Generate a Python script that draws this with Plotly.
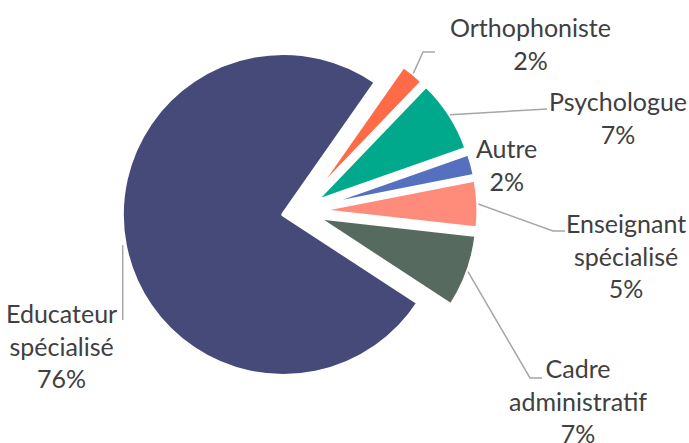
import math
import plotly.graph_objects as go

# ---- data ----
categories = ["Orthophoniste", "Psychologue", "Autre",
              "Enseignant spécialisé", "Cadre administratif", "Educateur spécialisé"]
label_text = ["Orthophoniste", "Psychologue", "Autre",
              "Enseignant<br>spécialisé", "Cadre<br>administratif", "Educateur<br>spécialisé"]
values = [2.45, 7.45, 2.3, 4.85, 7.45, 75.5]
colors = ["#FF6B46", "#00A98B", "#5570BF", "#FF8B7B", "#576A60", "#464A78"]

# ---- layout (pixels) ----
W, H = 689, 443
CX, CY = 300.0, 211.3
R = 161.5
PULL = 0.105
ROTATION = 35
FONT = "Lato"
FSIZE = 25
TXT = "#404040"
LEADER = "#A6A6A6"

label_pos = [(530, 43.5), (617.5, 117), (507, 164), (626, 255.5), (578, 400.5), (61, 345)]
leader_bends = [[(423, 52), (435, 52)], [(547, 109)], [],
                [(553, 231), (565, 231)], [(530, 378), (542, 378)], [(122.7, 320)]]

box = 2 * R * (1 + PULL)
dom_y = [1 - (CY + box / 2) / H, 1 - (CY - box / 2) / H]
dom_x = [(CX - 210) / W, (CX + 210) / W]

fig = go.Figure(go.Pie(
    labels=categories, values=values, sort=False, direction="clockwise",
    rotation=ROTATION, pull=PULL,
    marker=dict(colors=colors, line=dict(color="white", width=4)),
    textinfo="none", hoverinfo="label+percent", showlegend=False,
    domain=dict(x=dom_x, y=dom_y),
))

total = sum(values)
ann = []
shapes = []
cum = 0.0
for i, v in enumerate(values):
    mid = math.radians(ROTATION + 360 * (cum + v / 2) / total)
    cum += v
    pct = int(v / total * 100 + 0.5)
    lx, ly = label_pos[i]
    ann.append(dict(text=f"{label_text[i]}<br>{pct}%", x=lx / W, y=1 - ly / H,
                    xref="paper", yref="paper", xanchor="center", yanchor="middle",
                    showarrow=False, align="center",
                    font=dict(family=FONT, size=FSIZE, color=TXT)))
    if leader_bends[i]:
        rr = R * (1 + PULL)
        sx, sy = CX + rr * math.sin(mid), CY - rr * math.cos(mid)
        if i == len(values) - 1:
            sx = leader_bends[i][0][0]
        pts = [(sx, sy)] + leader_bends[i]
        path = "M " + " L ".join(f"{x / W},{1 - y / H}" for x, y in pts)
        shapes.append(dict(type="path", path=path, xref="paper", yref="paper",
                           line=dict(color=LEADER, width=1.5)))

fig.update_layout(width=W, height=H, margin=dict(l=0, r=0, t=0, b=0),
                  paper_bgcolor="white", plot_bgcolor="white",
                  annotations=ann, shapes=shapes, showlegend=False)
fig.write_html("out.html", config={"displayModeBar": False},
               post_script="document.body.style.margin='0';document.body.style.overflow='hidden';")
